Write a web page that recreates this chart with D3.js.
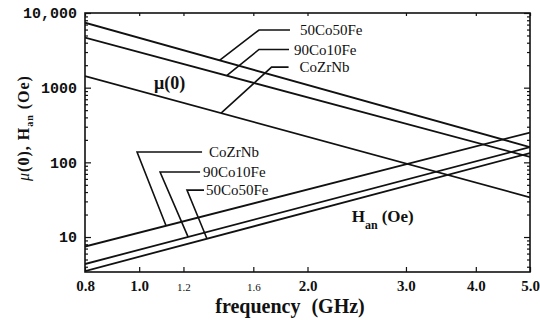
<!DOCTYPE html>
<html>
<head>
<meta charset="utf-8">
<script src="https://cdn.jsdelivr.net/npm/d3@7"></script>
<style>
    body { margin: 0; background: #fff; }
    svg { display: block; }
    .serif { font-family: "Liberation Serif", "Times New Roman", serif; }
</style>
</head>
<body>
<div id="chart"></div>
<script>
// frequency (GHz) range and end points of the straight log-log lines
var freqDomain = [0.8, 5.0];
var valueDomain = [3.4, 10000];
var lineFreqs = [0.8, 5.0];

var alloys = ["50Co50Fe", "90Co10Fe", "CoZrNb"];

// mu(0) at 0.8 and 5.0 GHz
var mu50Co50Fe = [7410, 160];
var mu90Co10Fe = [4670, 118];
var muCoZrNb = [1430, 34];

// Han (Oe) at 0.8 and 5.0 GHz
var han50Co50Fe = [3.5, 133];
var han90Co10Fe = [4.35, 160];
var hanCoZrNb = [7.46, 251];

// frequency where each label's leader touches its line
var muLeaderFreqs = [1.392, 1.434, 1.401];
var hanLeaderFreqs = [1.322, 1.223, 1.117];

var xTicks = [0.8, 1.0, 1.2, 1.6, 2.0, 3.0, 4.0, 5.0];
var xTickLabels = ["0.8", "1.0", "1.2", "1.6", "2.0", "3.0", "4.0", "5.0"];
var smallXTicks = [1.2, 1.6];
var yTicks = [10, 100, 1000, 10000];
var yTickLabels = ["10", "100", "1000", "10,000"];

var muSeries = [mu50Co50Fe, mu90Co10Fe, muCoZrNb];
var hanSeries = [han50Co50Fe, han90Co10Fe, hanCoZrNb];

// leader layout, pixel offsets from the anchor point (same order as alloys)
var muLeaders = [
    { dx: 39.5, dy: -30.3, len: 31, gap: 10 },
    { dx: 32.3, dy: -26.2, len: 30, gap: 5 },
    { dx: 50.5, dy: -46, len: 17, gap: 11 }
];
var hanLeaders = [
    { dx: -20, dy: -48.6, len: 17, gap: 2 },
    { dx: -28, dy: -64.9, len: 40, gap: 3 },
    { dx: -29, dy: -73.8, len: 65, gap: 7 }
];

var width = 540, height = 320;
var plot = { left: 85, right: 530, top: 13, bottom: 272 };

var svg = d3.select("#chart")
    .append("svg")
    .attr("width", width)
    .attr("height", height);

var x = d3.scaleLog()
    .domain(freqDomain)
    .range([plot.left, plot.right]);
var y = d3.scaleLog()
    .domain(valueDomain)
    .range([plot.bottom, plot.top]);

// point on a straight log-log line, used only to hook the leaders
function valueAt(series, f) {
    var t = Math.log(f / lineFreqs[0]) / Math.log(lineFreqs[1] / lineFreqs[0]);
    return Math.exp(Math.log(series[0]) + t * (Math.log(series[1]) - Math.log(series[0])));
}

svg.append("defs").append("clipPath")
    .attr("id", "clip")
    .append("rect")
    .attr("x", plot.left)
    .attr("y", plot.top)
    .attr("width", plot.right - plot.left)
    .attr("height", plot.bottom - plot.top);

// minor log ticks on the value axis
var minorY = [];
[1, 10, 100, 1000].forEach(function (p) {
    for (var k = 2; k <= 9; k++) {
        var v = k * p;
        if (v >= valueDomain[0] && v <= valueDomain[1]) minorY.push(v);
    }
});

svg.append("g")
    .attr("transform", `translate(${plot.left}, 0)`)
    .call(d3.axisLeft(y).tickValues(minorY).tickSize(-3).tickFormat(""))
    .call(g => g.select(".domain").remove());
svg.append("g")
    .attr("transform", `translate(${plot.right}, 0)`)
    .call(d3.axisRight(y).tickValues(minorY).tickSize(-3).tickFormat(""))
    .call(g => g.select(".domain").remove());
svg.append("g")
    .attr("transform", `translate(${plot.right}, 0)`)
    .call(d3.axisRight(y).tickValues(yTicks).tickSize(-6).tickFormat(""))
    .call(g => g.select(".domain").remove());

var yAxis = svg.append("g")
    .attr("transform", `translate(${plot.left}, 0)`)
    .call(d3.axisLeft(y)
        .tickValues(yTicks)
        .tickSize(-6)
        .tickPadding(8)
        .tickFormat(function (d, i) { return yTickLabels[i]; }));
yAxis.select(".domain").remove();
yAxis.selectAll("text")
    .attr("fill", "#111")
    .style("font-family", "'Liberation Mono', 'Courier New', monospace")
    .style("font-weight", "bold")
    .style("font-size", "15px");

var xAxis = svg.append("g")
    .attr("transform", `translate(0, ${plot.bottom})`)
    .call(d3.axisBottom(x)
        .tickValues(xTicks)
        .tickSize(-5)
        .tickFormat(function (d, i) { return xTickLabels[i]; }));
xAxis.select(".domain").remove();
xAxis.selectAll("text")
    .attr("dy", null)
    .attr("y", 18.5)
    .attr("fill", "#111")
    .attr("class", "serif")
    .style("font-weight", function (d) { return smallXTicks.indexOf(d) >= 0 ? "normal" : "bold"; })
    .style("font-size", function (d) { return smallXTicks.indexOf(d) >= 0 ? "11px" : "15px"; });

svg.append("g")
    .attr("transform", `translate(0, ${plot.top})`)
    .call(d3.axisTop(x).tickValues(xTicks).tickSize(-3).tickFormat(""))
    .call(g => g.select(".domain").remove());

svg.selectAll(".tick line").attr("stroke", "#111").attr("stroke-width", 1.2);

// frame
svg.append("rect")
    .attr("x", plot.left)
    .attr("y", plot.top)
    .attr("width", plot.right - plot.left)
    .attr("height", plot.bottom - plot.top)
    .attr("fill", "none")
    .attr("stroke", "#111")
    .attr("stroke-width", 1.6);

var line = d3.line()
    .x(function (d) { return x(d[0]); })
    .y(function (d) { return y(d[1]); });

function drawSeries(seriesList) {
    svg.append("g")
        .attr("clip-path", "url(#clip)")
        .selectAll("path")
        .data(seriesList)
        .join("path")
        .attr("d", function (s) { return line(lineFreqs.map(function (f, i) { return [f, s[i]]; })); })
        .attr("fill", "none")
        .attr("stroke", "#111")
        .attr("stroke-width", 1.8);
}
drawSeries(muSeries);
drawSeries(hanSeries);

function drawLeaders(seriesList, freqs, layout) {
    var g = svg.append("g");
    seriesList.forEach(function (s, i) {
        var ax = x(freqs[i]), ay = y(valueAt(s, freqs[i]));
        var ex = ax + layout[i].dx, ey = ay + layout[i].dy;
        g.append("path")
            .attr("d", `M${ax},${ay}L${ex},${ey}L${ex + layout[i].len},${ey}`)
            .attr("fill", "none")
            .attr("stroke", "#111")
            .attr("stroke-width", 1.6);
        g.append("text")
            .attr("class", "serif")
            .attr("x", ex + layout[i].len + layout[i].gap)
            .attr("y", ey)
            .attr("dy", "0.35em")
            .attr("fill", "#111")
            .style("font-size", "15px")
            .text(alloys[i]);
    });
}
drawLeaders(muSeries, muLeaderFreqs, muLeaders);
drawLeaders(hanSeries, hanLeaderFreqs, hanLeaders);

// curve names
svg.append("text")
    .attr("class", "serif")
    .attr("x", x(1.063))
    .attr("y", y(960))
    .attr("fill", "#111")
    .style("font-size", "18px")
    .style("font-weight", "bold")
    .text("\u03bc(0)");

var hanLabel = svg.append("text")
    .attr("class", "serif")
    .attr("x", x(2.4))
    .attr("y", y(16))
    .attr("fill", "#111")
    .style("font-size", "17px")
    .style("font-weight", "bold");
hanLabel.append("tspan").text("H");
hanLabel.append("tspan").attr("dy", 7).style("font-size", "12px").text("an");
hanLabel.append("tspan").attr("dy", -7).attr("dx", 4).text("(Oe)");

// axis titles
svg.append("text")
    .attr("class", "serif")
    .attr("x", 290)
    .attr("y", 313)
    .attr("text-anchor", "middle")
    .attr("fill", "#111")
    .style("font-size", "20px")
    .style("font-weight", "bold")
    .style("word-spacing", "6px")
    .text("frequency (GHz)");

var yTitle = svg.append("text")
    .attr("class", "serif")
    .attr("transform", "translate(29, 128) rotate(-90)")
    .attr("text-anchor", "middle")
    .attr("fill", "#111")
    .style("font-size", "16px")
    .style("font-weight", "bold")
    .style("letter-spacing", "1px");
yTitle.append("tspan").style("font-style", "italic").style("font-weight", "normal").text("\u03bc");
yTitle.append("tspan").text("(0), H");
yTitle.append("tspan").attr("dy", 4).style("font-size", "10px").text("an");
yTitle.append("tspan").attr("dy", -4).attr("dx", 5).text("(Oe)");
</script>
</body>
</html>
